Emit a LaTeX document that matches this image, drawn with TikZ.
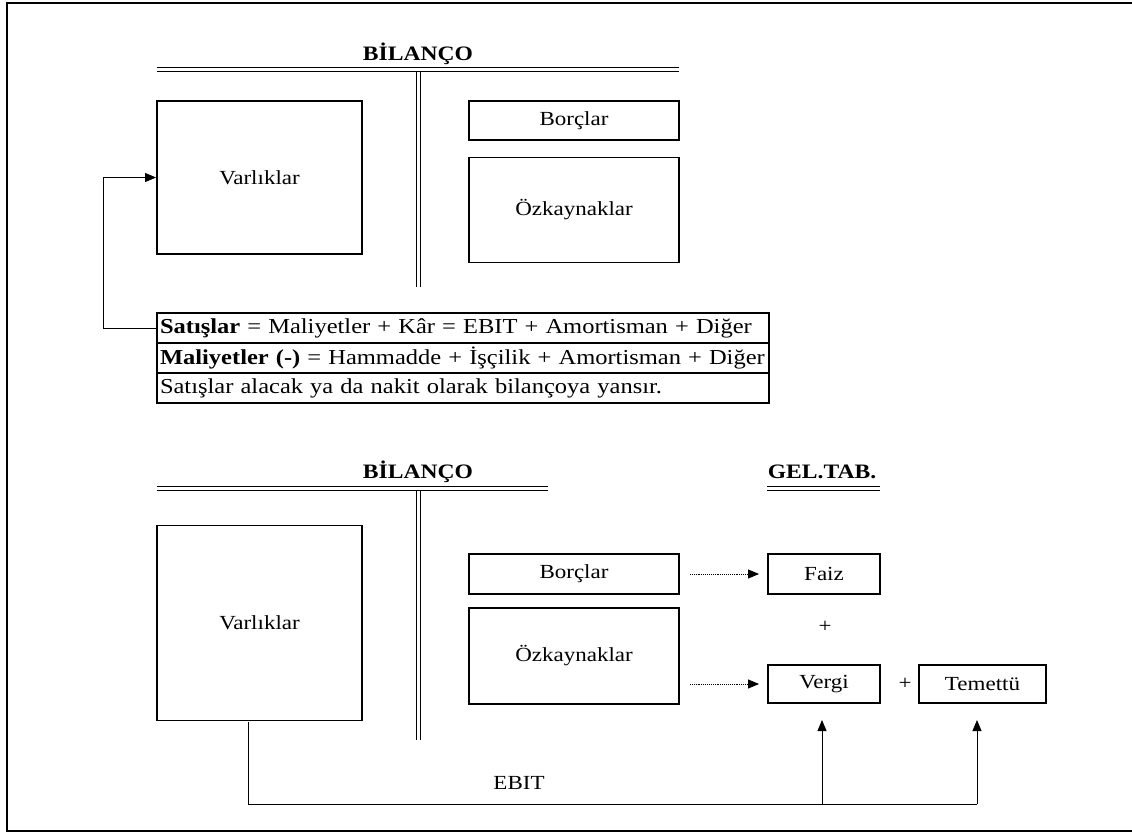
\documentclass[tikz,border=0pt]{standalone}
\usepackage{fontspec}
\setmainfont{Liberation Serif}[FakeStretch=1.15]
\usetikzlibrary{arrows.meta,positioning}
\tikzset{
  box/.style={draw,line width=1.9pt,inner sep=0pt,font=\fontsize{20}{23}\selectfont},
  title/.style={font=\fontsize{20.5}{22}\selectfont\bfseries,inner sep=0pt},
  row/.style={draw,line width=1.9pt,outer sep=0pt,anchor=north west,text width=606pt,inner xsep=3pt,inner ysep=0pt,minimum height=30pt,align=left,font=\fontsize{21.3}{23}\selectfont},
  dbl/.style={line width=1.9pt},
  conn/.style={line width=0.9pt,-{Triangle[length=11pt,width=9pt]}},
  dconn/.style={line width=0.9pt,densely dotted,-{Triangle[length=11pt,width=9pt]}},
  plain/.style={line width=0.9pt},
  lbl/.style={font=\fontsize{20}{23}\selectfont,inner sep=0pt}
}
\begin{document}
\begin{tikzpicture}[x=1pt,y=-1pt]
\useasboundingbox (0,0) rectangle (1132,834);
% frame
\draw[line width=2pt] (1140,3) -- (7,3) -- (7,831) -- (1140,831);

% ===== top balance sheet =====
\node[title] (t1) at (418,54) {BİLANÇO};
\draw[dbl] (157,67.5) -- (679,67.5);
\draw[dbl] (157,71.5) -- (679,71.5);
\draw[dbl] (416.5,72) -- (416.5,287);
\draw[dbl] (420.5,72) -- (420.5,287);
\node[box,minimum width=205pt,minimum height=153pt] (v1) at (259.5,177.5) {Varlıklar};
\node[box,minimum width=210pt,minimum height=39pt] (b1) at (574,120.5) {Borçlar};
\node[box,minimum width=210pt,minimum height=105pt] (o1) at (574,210) {Özkaynaklar};

% table
\node[row] (r1) at (157,313) {\textbf{Satışlar} = Maliyetler + Kâr = EBIT + Amortisman + Diğer};
\node[row] (r2) at (r1.south west) {\textbf{Maliyetler (-)} = Hammadde + İşçilik + Amortisman + Diğer};
\node[row] (r3) at (r2.south west) {Satışlar alacak ya da nakit olarak bilançoya yansır.};
\draw[conn] (r1.west) -- ++(-54,0) |- (v1.west);

% ===== bottom balance sheet =====
\node[title] (t2) at (418,472) {BİLANÇO};
\draw[dbl] (157,486.5) -- (548,486.5);
\draw[dbl] (157,490.5) -- (548,490.5);
\draw[dbl] (416.5,491) -- (416.5,740);
\draw[dbl] (420.5,491) -- (420.5,740);
\node[title] (t3) at (822,472) {GEL.TAB.};
\draw[dbl] (767,486.5) -- (880,486.5);
\draw[dbl] (767,490.5) -- (880,490.5);

\node[box,minimum width=205pt,minimum height=195pt] (v2) at (259.5,623) {Varlıklar};
\node[box,minimum width=210pt,minimum height=40pt] (b2) at (574,574) {Borçlar};
\node[box,minimum width=210pt,minimum height=96pt] (o2) at (574,656) {Özkaynaklar};

\node[box,minimum width=112pt,minimum height=40pt] (fz) at (824,574) {Faiz};
\node[lbl] (p1) at (825,627) {+};
\node[box,minimum width=112pt,minimum height=38pt] (vg) at (824,684) {Vergi};
\node[lbl] (p2) at (905,684) {+};
\node[box,minimum width=127pt,minimum height=38pt] (tm) at (982.5,684) {Temettü};

\coordinate (oq) at (o2.east |- vg.west);
\draw[dconn] ([xshift=10pt]b2.east) -- ([xshift=-8pt]fz.west);
\draw[dconn] ([xshift=10pt]oq) -- ([xshift=-8pt]vg.west);

% EBIT
\coordinate (e0) at (248,722);
\coordinate (e1) at (248,804);
\coordinate (e2) at (977,804);
\coordinate (e3) at (822,804);
\coordinate (a1) at (822,720);
\coordinate (a2) at (977,720);
\draw[plain] (e0) -- (e1) -- (e2);
\draw[conn] (e3) -- (a1);
\draw[conn] (e2) -- (a2);
\node[lbl] (eb) at (519,783) {EBIT};
\end{tikzpicture}
\end{document}
